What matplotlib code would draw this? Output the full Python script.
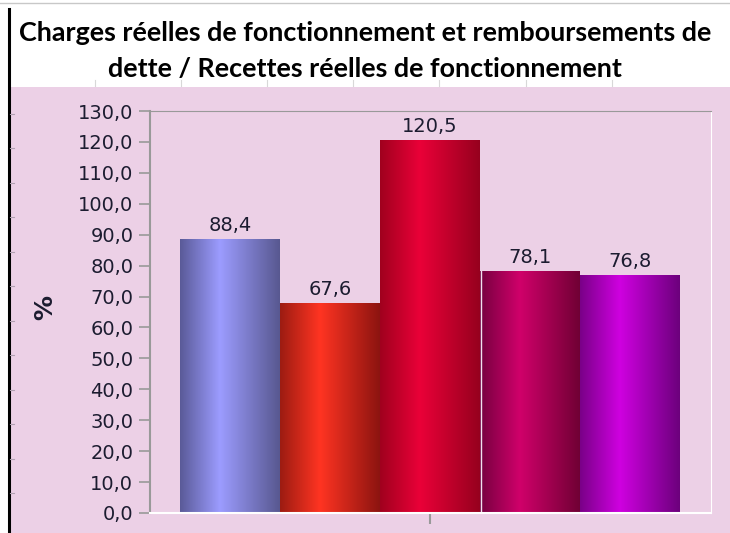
import numpy as np
import matplotlib.pyplot as plt
from matplotlib.colors import LinearSegmentedColormap
from matplotlib.lines import Line2D
from matplotlib.patches import Rectangle

# données
valeurs = [88.4, 67.6, 120.5, 78.1, 76.8]
etiquettes = ['88,4', '67,6', '120,5', '78,1', '76,8']
yticks = np.arange(0, 131, 10)
# couleurs des barres (bord gauche, centre clair, bord droit)
couleurs = [
    ('#5a5a98', '#9c9cff', '#585890'),
    ('#9c1c12', '#ff3422', '#8c1410'),
    ('#a0001e', '#ea0038', '#96001e'),
    ('#760040', '#d0006a', '#700034'),
    ('#7a0088', '#cf00e0', '#6c007c'),
]

rose = '#ecd0e6'
fig = plt.figure(figsize=(7.3, 5.33), dpi=100)

# fond rose + cadre façon feuille de calcul
fig.patches.append(Rectangle((10 / 730, 0), 1, 1 - 87 / 533, transform=fig.transFigure,
                             facecolor=rose, edgecolor='none', zorder=-1))
fig.add_artist(Line2D([9 / 730, 9 / 730], [0, 1 - 9 / 533], color='black', lw=2.2))
fig.add_artist(Line2D([0, 1], [1 - 3 / 533, 1 - 3 / 533], color='#c8c8c8', lw=1))
for xc in [95, 181, 267, 353, 439, 526, 612]:
    fig.add_artist(Line2D([xc / 730, xc / 730], [1 - 86 / 533, 1 - 80 / 533], color='#d8d8d8', lw=0.8))
# lignes de la feuille à gauche
for yr in [114, 148, 183, 217, 252, 286, 321, 355, 390, 424, 459, 493]:
    fig.add_artist(Line2D([10 / 730, 14 / 730], [1 - yr / 533, 1 - yr / 533], color='#b0a0b0', lw=0.8))

fig.text(0.5, 1 - 33 / 533, 'Charges réelles de fonctionnement et remboursements de',
         ha='center', va='center', fontsize=19.4, fontweight='bold', family='Lato')
fig.text(0.5, 1 - 69 / 533, 'dette / Recettes réelles de fonctionnement',
         ha='center', va='center', fontsize=19.4, fontweight='bold', family='Lato')

ax = fig.add_axes([150 / 730, 20 / 533, 561 / 730, 402 / 533])
ax.set_facecolor(rose)

x = np.arange(len(valeurs))
t = np.linspace(0, 1, 256).reshape(1, -1)
for i, v in enumerate(valeurs):
    cm = LinearSegmentedColormap.from_list('b%d' % i, [(0, couleurs[i][0]), (0.4, couleurs[i][1]),
                                                      (1, couleurs[i][2])])
    ax.imshow(t, extent=[x[i] - 0.5, x[i] + 0.5, 0, v], aspect='auto', cmap=cm, zorder=2)
    ax.text(x[i], v + 1.5, etiquettes[i], ha='center', va='bottom', fontsize=14,
            color='#1c1c30', zorder=3)
# fin filet clair entre la 3e et la 4e barre
ax.axvline(2.505, ymin=0, ymax=min(valeurs[2], valeurs[3]) / 130, color='#f0e0ee', lw=1, zorder=2.5)

ax.set_xlim(-0.8, 4.81)
ax.set_ylim(0, 130)
ax.set_yticks(yticks)
ax.set_yticklabels(['%d,0' % y_ for y_ in yticks], fontsize=14, color='#1c1c30')
ax.tick_params(axis='y', direction='out', length=8, width=1.2, color='#999999', pad=4)
ax.set_xticks([2])
ax.set_xticklabels([''])
ax.tick_params(axis='x', direction='out', length=8, width=1.5, color='#999999')
ax.spines['left'].set_color('#999999')
ax.spines['left'].set_linewidth(1.5)
ax.spines['top'].set_color('#999999')
ax.spines['right'].set_color('white')
ax.spines['bottom'].set_color('white')
ax.spines['bottom'].set_linewidth(1.5)

fig.text(45 / 730, 1 - 308 / 533, '%', rotation=90, ha='center', va='center',
         fontsize=18, fontweight='bold', color='#1c1c30')

plt.savefig('out.png', dpi=100)
